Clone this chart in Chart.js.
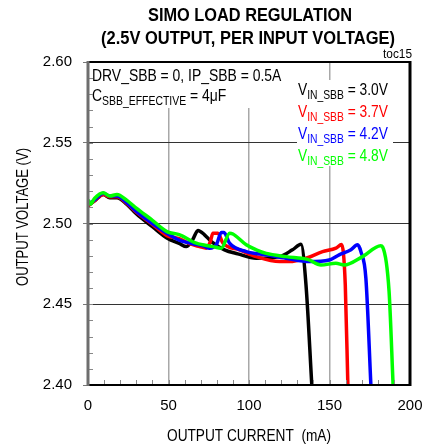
<!DOCTYPE html>
<html>
<head>
<meta charset="utf-8">
<script src="https://cdn.jsdelivr.net/npm/chart.js@4.4.1/dist/chart.umd.min.js"></script>
<style>
  html, body { margin: 0; padding: 0; background: #fff; }
  #loadChart { display: block; }
</style>
</head>
<body>
<canvas id="loadChart" width="437" height="447"></canvas>
<script>
// output current (mA) / output voltage (V) per input voltage
const current30 = [0, 4, 9.5, 13.5, 18, 24, 30, 40, 49, 57, 61, 65, 68.3, 72.4, 76.6, 84.8, 93, 104.5, 119, 127, 132.3, 135.4, 139];
const volts30 = [2.511, 2.514, 2.518, 2.516, 2.516, 2.512, 2.506, 2.498, 2.491, 2.4875, 2.4857, 2.490, 2.4957, 2.493, 2.4888, 2.4837, 2.4812, 2.4785, 2.4795, 2.4837, 2.4871, 2.462, 2.400];

const current37 = [0, 4, 9.5, 13.5, 18, 24, 30, 40, 49, 57, 63, 69.3, 73.5, 76, 77.6, 80.7, 83.8, 94, 104.5, 119, 125, 135.4, 145.7, 154, 157.5, 159.8, 161.4];
const volts37 = [2.511, 2.514, 2.518, 2.5165, 2.5165, 2.5125, 2.507, 2.4995, 2.4925, 2.4905, 2.4875, 2.4857, 2.4847, 2.4888, 2.494, 2.494, 2.4878, 2.4837, 2.4795, 2.4764, 2.4764, 2.4785, 2.4826, 2.4847, 2.487, 2.462, 2.400];

const current42 = [0, 4, 9.5, 13.5, 18, 24, 30, 40, 49, 57, 65, 72, 75.5, 79.7, 82.8, 84.5, 87.9, 98.3, 110.7, 123, 137.5, 149.8, 156, 163.3, 167.4, 169.5, 172.6, 175.7];
const volts42 = [2.512, 2.5145, 2.5188, 2.517, 2.517, 2.513, 2.5075, 2.500, 2.494, 2.4895, 2.4875, 2.486, 2.4847, 2.4868, 2.4944, 2.4944, 2.4878, 2.4826, 2.4806, 2.4785, 2.4764, 2.4774, 2.4806, 2.4837, 2.4868, 2.4826, 2.466, 2.400];

const current48 = [0, 1.5, 4, 9.5, 13.5, 18, 24, 30, 40, 49, 57, 67.3, 77.6, 82.8, 88, 90, 98.3, 104.5, 110.7, 123, 136.4, 144.7, 154, 159.1, 170.5, 181.8, 183, 187, 189.5];
const volts48 = [2.5147, 2.512, 2.5155, 2.519, 2.517, 2.518, 2.5145, 2.5095, 2.502, 2.495, 2.493, 2.4878, 2.4857, 2.4847, 2.494, 2.4935, 2.4868, 2.4837, 2.4815, 2.4795, 2.4778, 2.4743, 2.4754, 2.4743, 2.4795, 2.4863, 2.4855, 2.458, 2.400];

const seriesLabels = ['3.0V', '3.7V', '4.2V', '4.8V'];
const seriesColors = ['#000000', '#ff0000', '#0000ff', '#00ff00'];

const yTicks = [2.40, 2.45, 2.50, 2.55, 2.60];
const xTicks = [0, 50, 100, 150, 200];

const FONT = "'Liberation Sans Narrow', 'Liberation Sans', Arial, sans-serif";
Chart.defaults.font.family = FONT;
Chart.defaults.color = '#000';

const toPoints = (xs, ys) => xs.map((x, i) => ({x: x, y: ys[i]}));

// text with subscript parts, squeezed sideways to look like a narrow font
const drawRich = (ctx, parts, x, y, size, subSize, squeeze) => {
    ctx.save();
    ctx.translate(x, y);
    ctx.scale(squeeze, 1);
    let cx = 0;
    parts.forEach((p) => {
        ctx.font = (p[1] ? subSize : size) + 'px ' + FONT;
        ctx.fillText(p[0], cx, p[1] ? 4 : 0);
        cx += ctx.measureText(p[0]).width;
    });
    ctx.restore();
};

const decorPlugin = {
    id: 'decor',
    beforeDatasetsDraw(chart) {
        const ctx = chart.ctx;
        const a = chart.chartArea;
        ctx.save();
        // white boxes behind the notes
        ctx.fillStyle = '#fff';
        ctx.fillRect(a.left + 2, a.top + 1, 196, 45);
        ctx.fillRect(297, 80, 96, 86);

        ctx.fillStyle = '#000';
        ctx.textBaseline = 'alphabetic';
        ctx.textAlign = 'left';
        drawRich(ctx, [['DRV_SBB = 0, IP_SBB = 0.5A', false]], 92, 81, 16, 12, 0.87);
        drawRich(ctx, [['C', false], ['SBB_EFFECTIVE', true], [' = 4\u03bcF', false]], 92, 101, 16, 12, 0.87);

        seriesLabels.forEach((lab, i) => {
            ctx.fillStyle = seriesColors[i];
            drawRich(ctx, [['V', false], ['IN_SBB', true], [' = ' + lab, false]], 298, 95 + i * 22, 16, 12, 0.86);
        });
        ctx.restore();
    },
    afterDatasetsDraw(chart) {
        const ctx = chart.ctx;
        const a = chart.chartArea;
        const xs = chart.scales.x;
        const ys = chart.scales.y;
        ctx.save();
        // minor ticks
        ctx.strokeStyle = '#888';
        ctx.lineWidth = 1;
        for (let i = 1; i < 20; i++) {
            const py = Math.round(ys.getPixelForValue(2.40 + i * 0.01)) + 0.5;
            ctx.beginPath();
            ctx.moveTo(a.left, py);
            ctx.lineTo(a.left + 5, py);
            ctx.stroke();
            const px = Math.round(xs.getPixelForValue(i * 10)) + 0.5;
            ctx.beginPath();
            ctx.moveTo(px, a.bottom);
            ctx.lineTo(px, a.bottom - 5);
            ctx.stroke();
        }
        // frame
        ctx.strokeStyle = '#000';
        ctx.lineWidth = 2;
        ctx.beginPath();
        ctx.moveTo(a.left, a.top);
        ctx.lineTo(a.right, a.top);
        ctx.moveTo(a.left, a.bottom);
        ctx.lineTo(a.right, a.bottom);
        ctx.stroke();
        ctx.lineWidth = 3;
        ctx.beginPath();
        ctx.moveTo(a.right, a.top - 1);
        ctx.lineTo(a.right, a.bottom + 1);
        ctx.stroke();
        ctx.strokeStyle = '#6e6e6e';
        ctx.beginPath();
        ctx.moveTo(a.left, a.top - 1);
        ctx.lineTo(a.left, a.bottom + 1);
        ctx.stroke();

        // titles
        ctx.fillStyle = '#000';
        ctx.textAlign = 'center';
        ctx.font = 'bold 18px ' + FONT;
        ctx.fillText('SIMO LOAD REGULATION', 250, 21, 204);
        ctx.fillText('(2.5V OUTPUT, PER INPUT VOLTAGE)', 248, 44, 294);
        ctx.font = '16px ' + FONT;
        ctx.fillText('OUTPUT CURRENT  (mA)', 249, 441, 164);
        ctx.textAlign = 'right';
        ctx.font = '12px ' + FONT;
        ctx.fillText('toc15', 412, 58, 29);
        ctx.translate(28, 217);
        ctx.rotate(-Math.PI / 2);
        ctx.textAlign = 'center';
        ctx.font = '16px ' + FONT;
        ctx.fillText('OUTPUT VOLTAGE (V)', 0, 0, 138);
        ctx.restore();
    }
};

const loadChart = new Chart(document.getElementById('loadChart'), {
    type: 'line',
    data: {
        datasets: [
            {label: seriesLabels[3], data: toPoints(current48, volts48), borderColor: seriesColors[3], order: 0},
            {label: seriesLabels[2], data: toPoints(current42, volts42), borderColor: seriesColors[2], order: 1},
            {label: seriesLabels[1], data: toPoints(current37, volts37), borderColor: seriesColors[1], order: 2},
            {label: seriesLabels[0], data: toPoints(current30, volts30), borderColor: seriesColors[0], order: 3}
        ]
    },
    options: {
        responsive: false,
        animation: false,
        devicePixelRatio: 1,
        layout: {padding: {top: 62, right: 27, left: 0, bottom: 0}},
        elements: {
            line: {borderWidth: 3.5, cubicInterpolationMode: 'monotone', fill: false},
            point: {radius: 0}
        },
        plugins: {
            legend: {display: false},
            title: {display: false},
            tooltip: {enabled: false}
        },
        scales: {
            x: {
                type: 'linear',
                min: 0,
                max: 200,
                afterBuildTicks: (scale) => { scale.ticks = xTicks.map((v) => ({value: v})); },
                afterFit: (scale) => { scale.height = 62; },
                border: {display: false},
                grid: {
                    color: (c) => (c.tick && c.tick.value > 0 && c.tick.value < 200) ? '#a8a8a8' : 'rgba(0,0,0,0)',
                    lineWidth: 1.5,
                    drawTicks: false
                },
                ticks: {
                    padding: 12,
                    font: {size: 15},
                    maxRotation: 0,
                    callback: (v) => v
                }
            },
            y: {
                type: 'linear',
                min: 2.40,
                max: 2.60,
                afterBuildTicks: (scale) => { scale.ticks = yTicks.map((v) => ({value: v})); },
                afterFit: (scale) => { scale.width = 88; },
                border: {display: false},
                grid: {
                    color: (c) => (c.tick && c.tick.value > 2.401 && c.tick.value < 2.599) ? '#333' : 'rgba(0,0,0,0)',
                    lineWidth: 1,
                    tickColor: '#777',
                    tickLength: 5
                },
                ticks: {
                    padding: 11,
                    font: {size: 15},
                    callback: (v) => Number(v).toFixed(2)
                }
            }
        }
    },
    plugins: [decorPlugin]
});
</script>
</body>
</html>
